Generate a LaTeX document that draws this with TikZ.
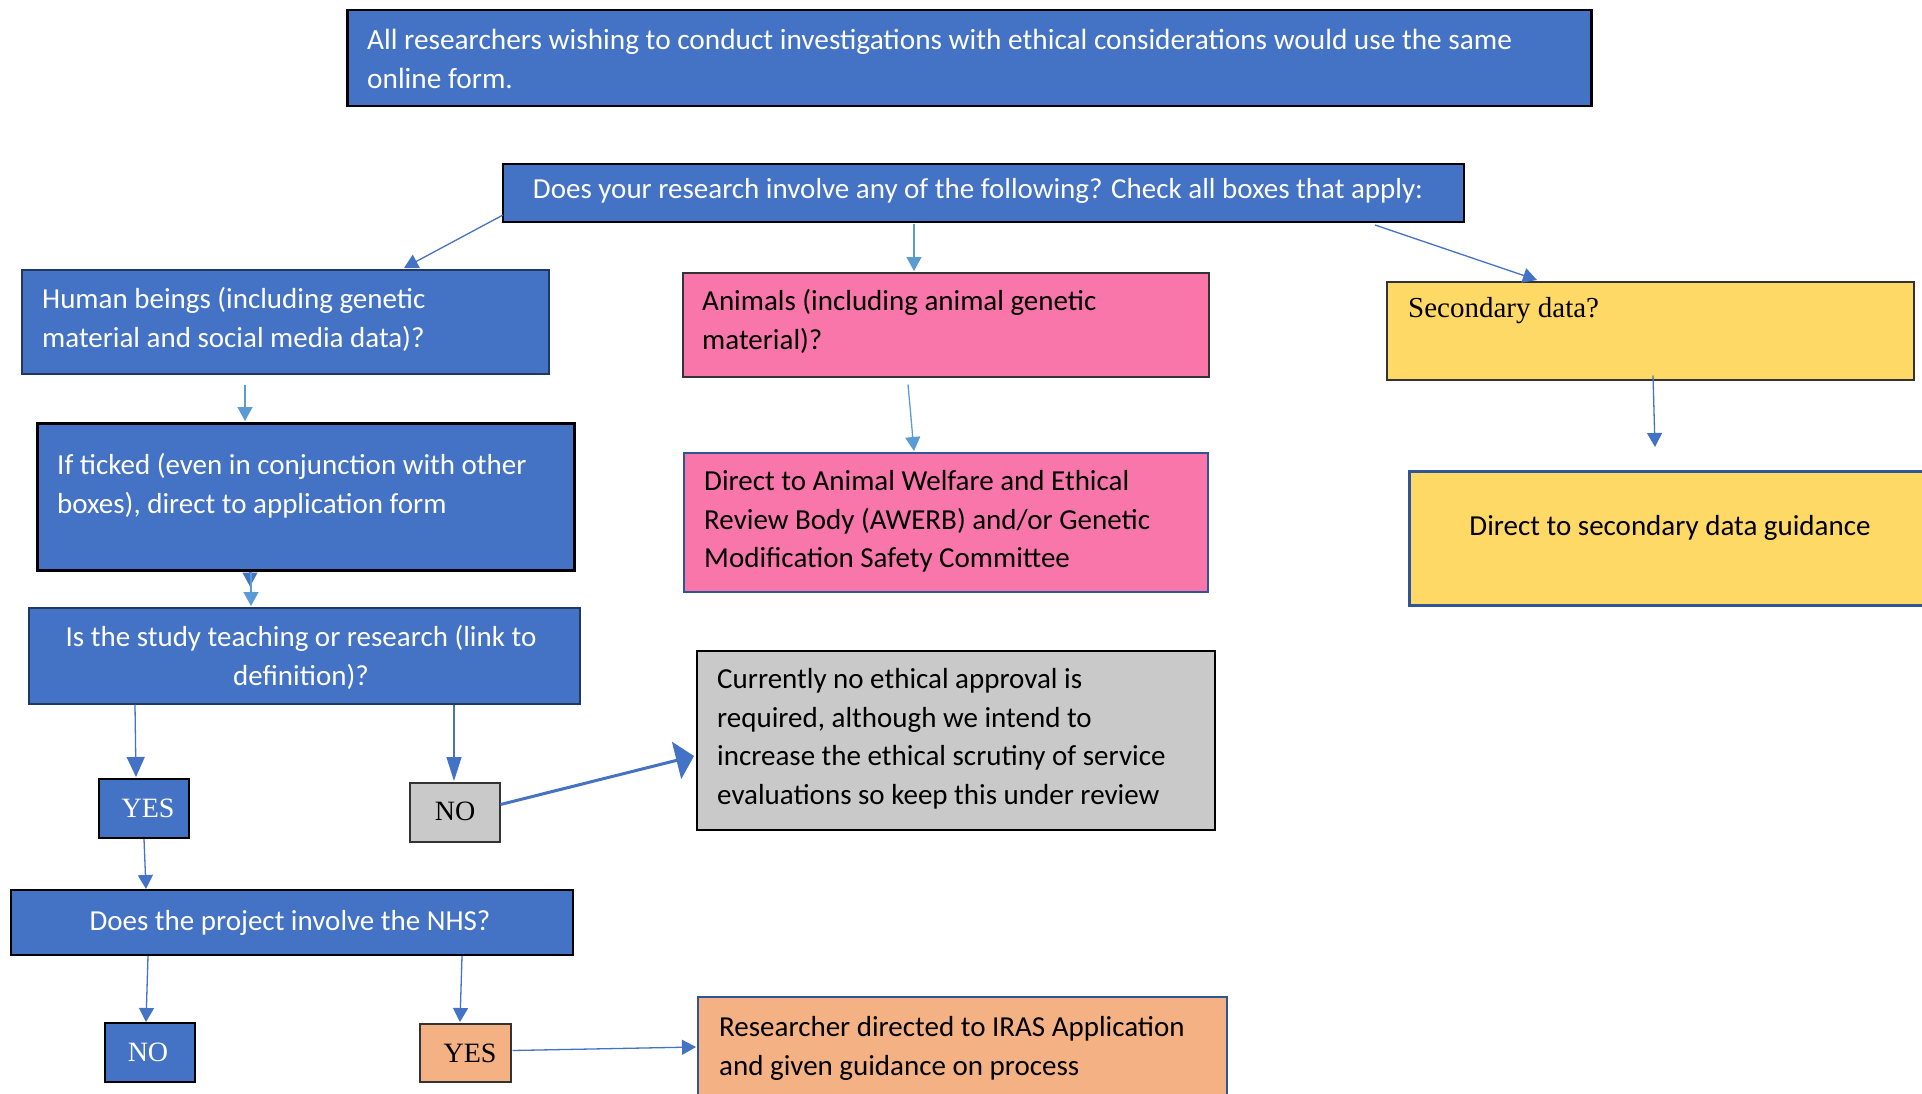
\documentclass[tikz,border=0pt]{standalone}
\usepackage{fontspec}
\setmainfont{Carlito}
\newfontfamily\tnr{Liberation Serif}
\usetikzlibrary{arrows.meta,calc}
\definecolor{cblue}{HTML}{4472C4}
\definecolor{lblue}{HTML}{5B9BD5}
\definecolor{navy}{HTML}{2F5597}
\definecolor{dnavy}{HTML}{1F3864}
\definecolor{cpink}{HTML}{F876AA}
\definecolor{cyellow}{HTML}{FFD966}
\definecolor{cgrey}{HTML}{C9C9C9}
\definecolor{corange}{HTML}{F4B183}
\definecolor{dgrey}{HTML}{333333}
\begin{document}
\begin{tikzpicture}[x=1pt,y=-1pt,
  box/.style={rectangle, inner sep=0pt, anchor=north west},
  txt/.style={inner sep=0pt, anchor=north west, align=left,
    font=\fontsize{29}{38.7}\selectfont,
    execute at begin node={\rule{0pt}{25pt}}},
  ctxt/.style={txt, anchor=north, align=center},
  yn/.style={inner sep=0pt, anchor=base, font=\tnr\fontsize{28}{34}\selectfont},
  arr/.style={draw=cblue, line width=1.3pt, -{Triangle[width=15pt,length=14pt]}},
  larr/.style={arr, draw=lblue}
]
\clip (0,0) rectangle (1922,1094);
\fill[white] (0,0) rectangle (1922,1094);

% boxes
\node[box, fill=cblue, draw=black, line width=2.5pt, minimum width=1244pt, minimum height=96pt] (top) at (346,9) {};
\node[box, fill=cblue, draw=black, line width=2pt, minimum width=961pt, minimum height=58pt] (does) at (502,163) {};
\node[box, fill=cblue, draw=dnavy, line width=1.5pt, minimum width=527pt, minimum height=104pt] (human) at (21,269) {};
\node[box, fill=cpink, draw=dgrey, line width=1.5pt, minimum width=526pt, minimum height=104pt] (animals) at (682,272) {};
\node[box, fill=cyellow, draw=dgrey, line width=1.5pt, minimum width=527pt, minimum height=98pt] (secondary) at (1386,281) {};
\node[box, fill=cblue, draw=black, line width=2.5pt, minimum width=537pt, minimum height=147pt] (ifticked) at (36,422) {};
\node[box, fill=cpink, draw=navy, line width=2pt, minimum width=524pt, minimum height=139pt] (welfare) at (683,452) {};
\node[box, fill=cyellow, draw=navy, line width=2.5pt, minimum width=530pt, minimum height=134pt] (direct) at (1408,470) {};
\node[box, fill=cblue, draw=dnavy, line width=1.5pt, minimum width=551pt, minimum height=96pt] (teaching) at (28,607) {};
\node[box, fill=cgrey, draw=black, line width=1.5pt, minimum width=518pt, minimum height=179pt] (grey) at (696,650) {};
\node[box, fill=cblue, draw=black, line width=2pt, minimum width=90pt, minimum height=59pt] (yes1) at (98,778) {};
\node[box, fill=cgrey, draw=dgrey, line width=1.5pt, minimum width=90pt, minimum height=59pt] (no1) at (409,782) {};
\node[box, fill=cblue, draw=black, line width=2pt, minimum width=562pt, minimum height=65pt] (nhs) at (10,889) {};
\node[box, fill=cblue, draw=black, line width=2pt, minimum width=90pt, minimum height=59pt] (no2) at (104,1022) {};
\node[box, fill=corange, draw=dgrey, line width=1.5pt, minimum width=91pt, minimum height=58pt] (yes2) at (419,1023) {};
\node[box, fill=corange, draw=navy, line width=2pt, minimum width=529pt, minimum height=110pt] (research) at (697,996) {};

% texts
\node[txt, text=white, font=\fontsize{29.3}{38.7}\selectfont] (toptext) at (367,29) {All researchers wishing to conduct investigations with ethical considerations would use the same\\online form.};
\node[ctxt, text=white] (doestext) at (978,173) {Does your research involve any of the following? Check all boxes that apply:};
\node[txt, text=white] (humantext) at (42,287) {Human beings (including genetic\\material and social media data)?};
\node[txt, text=black] (animalstext) at (702,289) {Animals (including animal genetic\\material)?};
\node[yn, anchor=base west, font=\tnr\fontsize{29}{34}\selectfont] (secondarytext) at (1408,317) {Secondary data?};
\node[txt, text=white] (ifttext) at (57,453) {If ticked (even in conjunction with other\\boxes), direct to application form};
\node[txt, text=black] (welfaretext) at (704,470) {Direct to Animal Welfare and Ethical\\Review Body (AWERB) and/or Genetic\\Modification Safety Committee};
\node[inner sep=0pt, anchor=base, font=\fontsize{29}{38.7}\selectfont] (directtext) at (1670,535) {Direct to secondary data guidance};
\node[ctxt, text=white] (teachtext) at (301,625) {Is the study teaching or research (link to\\definition)?};
\node[txt, text=black] (greytext) at (717,668) {Currently no ethical approval is\\required, although we intend to\\increase the ethical scrutiny of service\\evaluations so keep this under review};
\node[yn, text=white] (yes1text) at (148,817) {YES};
\node[yn, text=black] (no1text) at (455,820) {NO};
\node[inner sep=0pt, anchor=base, text=white, font=\fontsize{29}{38.7}\selectfont] (nhstext) at (290,930) {Does the project involve the NHS?};
\node[yn, text=white] (no2text) at (148,1061) {NO};
\node[yn, text=black] (yes2text) at (470,1062) {YES};
\node[txt, text=black] (researchtext) at (719,1016) {Researcher directed to IRAS Application\\and given guidance on process};

% connectors
\draw[arr] ($(does.south west)+(1,-8)$) -- ($(human.north west)+(383,-1)$);
\draw[larr] ($(does.south west)+(412,1)$) -- ($(animals.north west)+(232,-1)$);
\draw[arr] ($(does.south west)+(873,2)$) -- ($(secondary.north west)+(151,-1)$);
\draw[larr] ($(human.south west)+(224,10)$) -- ($(ifticked.north west)+(209,-1)$);
\draw[larr] ($(animals.south west)+(226,7)$) -- ($(welfare.north west)+(231,-1)$);
\draw[arr] ($(secondary.south west)+(267,-5)$) -- ($(direct.north west)+(247,-23)$);
\coordinate (a7tip) at ($(ifticked.south west)+(214,15)$);
\draw[arr] ($(ifticked.south west)+(214,0)$) -- (a7tip);
\draw[larr] ($(ifticked.south west)+(215,0)$) -- ($(teaching.north west)+(223,-1)$);
\draw[arr, -{Triangle[width=18pt,length=20pt]}] ($(teaching.south west)+(107,0)$) -- ($(yes1.north west)+(38,-1)$);
\draw[arr, -{Triangle[width=15pt,length=24pt]}] ($(teaching.south west)+(426,0)$) -- ($(no1.north west)+(45,-1)$);
\draw[arr, line width=3pt, -{Triangle[width=38pt,length=18pt]}] ($(no1.south east)+(0,-38)$) -- ($(grey.north west)+(-2,106)$);
\draw[arr] ($(yes1.south west)+(46,0)$) -- ($(nhs.north west)+(136,0)$);
\draw[arr] ($(nhs.south west)+(138,0)$) -- ($(no2.north west)+(42,0)$);
\draw[arr] ($(nhs.south west)+(452,0)$) -- ($(yes2.north west)+(41,-1)$);
\draw[arr] ($(yes2.south east)+(1,-32)$) -- ($(research.north west)+(-1,51)$);
\end{tikzpicture}
\end{document}
